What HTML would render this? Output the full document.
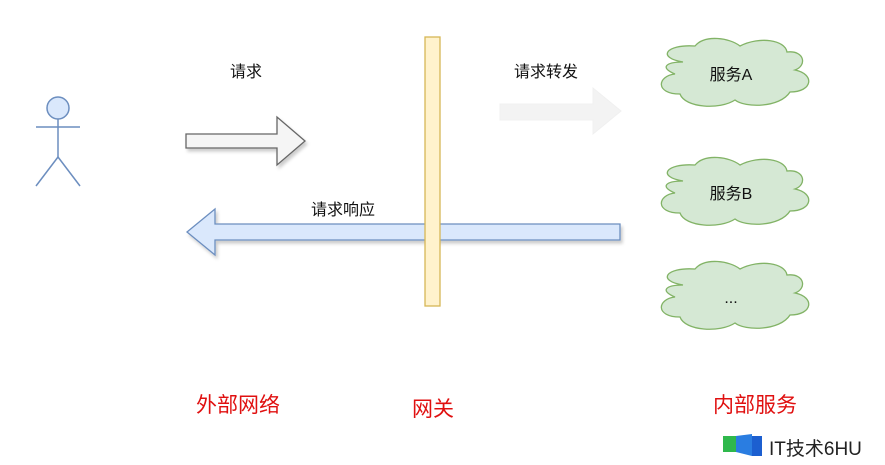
<!DOCTYPE html>
<html><head><meta charset="utf-8"><style>
html,body{margin:0;padding:0;background:#fff;}
svg{display:block;}
text{font-family:"Liberation Sans","Noto Sans CJK SC",sans-serif;}
</style></head><body>
<svg width="885" height="465" viewBox="0 0 885 465" xmlns="http://www.w3.org/2000/svg">
<defs>
<filter id="sh" x="-10%" y="-10%" width="130%" height="140%"><feDropShadow dx="2" dy="3" stdDeviation="1.5" flood-color="#000" flood-opacity="0.2"/></filter>
<g id="cloud">
<path d="M-52,-12 C-78,-16 -70,-30 -40,-28 C-30,-40 -5,-36 5,-28 C25,-38 50,-34 52,-22 C70,-24 72,-8 60,-4 C80,0 78,18 55,18 C45,34 10,34 0,26 C-15,36 -50,34 -55,20 C-80,20 -78,2 -60,0 C-75,-6 -70,-12 -52,-12 Z" fill="#d5e8d4" stroke="#82b366" stroke-width="1.3"/>
</g>
</defs>
<g stroke="#6c8ebf" stroke-width="1.5" fill="none">
<circle cx="58" cy="108" r="11" fill="#dae8fc"/>
<line x1="36" y1="127" x2="80" y2="127"/>
<line x1="58" y1="119" x2="58" y2="157"/>
<line x1="58" y1="157" x2="36" y2="186"/>
<line x1="58" y1="157" x2="80" y2="186"/>
</g>
<path d="M186,134 L277,134 L277,117 L305,141 L277,165 L277,148 L186,148 Z" fill="#f5f5f5" stroke="#666" stroke-width="1.3" filter="url(#sh)"/>
<path d="M500,104 L593,104 L593,88 L621,111 L593,134 L593,120 L500,120 Z" fill="#f3f3f3" stroke="#f0f0f0" stroke-width="1"/>
<path d="M620,224 L215,224 L215,209 L187,232 L215,255 L215,240 L620,240 Z" fill="#dae8fc" stroke="#6c8ebf" stroke-width="1.3" filter="url(#sh)"/>
<rect x="425" y="37" width="15" height="269" fill="#fff2cc" stroke="#d6b656" stroke-width="1.3"/>
<use href="#cloud" transform="translate(735,74)"/>
<use href="#cloud" transform="translate(735,193)"/>
<use href="#cloud" transform="translate(735,297)"/>
<g font-size="16" fill="#111" text-anchor="middle">
<text x="731" y="80">服务A</text>
<text x="731" y="199">服务B</text>
<text x="731" y="303">...</text>
<text x="246" y="77">请求</text>
<text x="546" y="77">请求转发</text>
<text x="343" y="215">请求响应</text>
</g>
<g font-size="21" fill="#e01010" text-anchor="middle">
<text x="238" y="412">外部网络</text>
<text x="433" y="416">网关</text>
<text x="755" y="412">内部服务</text>
</g>
<path d="M723,436 L738,436 L738,452 L723,452 Z" fill="#2fb84c"/>
<path d="M736,436 L752,434 L752,456 L736,452 Z" fill="#2a7de1"/>
<rect x="752" y="436" width="10" height="20" fill="#1c5fd0"/>
<text x="769" y="455" font-size="19" fill="#222">IT技术6HU</text>
</svg>
</body></html>
